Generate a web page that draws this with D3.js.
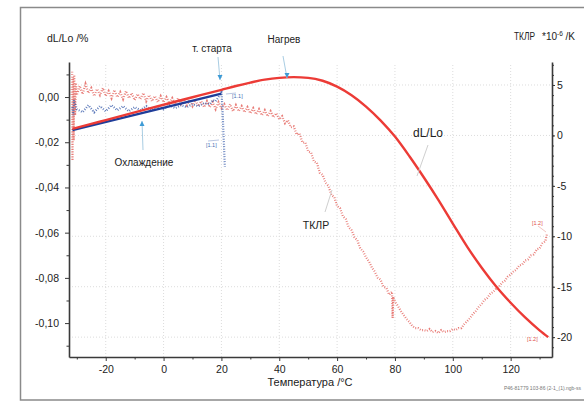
<!DOCTYPE html>
<html>
<head>
<meta charset="utf-8">
<script src="https://cdn.jsdelivr.net/npm/d3@7"></script>
<style>
  body { margin: 0; background: #fff; }
  svg text { font-family: "Liberation Sans", Arial, sans-serif; fill: #222; }
</style>
</head>
<body>
<svg id="chart" width="584" height="402"></svg>
<script>
// tick labels
var xTicks = [-20, 0, 20, 40, 60, 80, 100, 120];
var xMinor = [-30, -10, 10, 30, 50, 70, 90, 110, 130];
var leftTicks = [0, -0.02, -0.04, -0.06, -0.08, -0.10];
var leftMinor = [0.01, -0.01, -0.03, -0.05, -0.07, -0.09, -0.11];
var rightTicks = [5, 0, -5, -10, -15, -20];

// dL/Lo, heating (red solid), % vs temperature
var heatT  = [-31.5, -25, -20, -10, 0, 10, 20, 25, 30, 35, 40, 45, 50, 55, 60, 65, 70, 75, 80, 85, 90, 95, 100, 105, 110, 115, 120, 125, 130, 133];
var heatDL = [-0.0141, -0.0119, -0.0102, -0.0068, -0.0034, -0.0001, 0.0032, 0.0049, 0.0064, 0.0077, 0.0085, 0.0088, 0.0085, 0.0072, 0.0046, 0.0008, -0.0042, -0.0103, -0.0175, -0.0262, -0.0356, -0.0455, -0.0560, -0.0663, -0.0755, -0.0838, -0.0910, -0.0975, -0.1032, -0.1062];

// dL/Lo, cooling (blue solid)
var coolT  = [-31.5, 20];
var coolDL = [-0.0146, 0.0015];

// TKLP heating (red dots), 1e-6/K
var tkHeatT = [-31.8, -31.6, -31.5, -31.3, -31.1, -30.9, -30.6, -30.3, -30, -29, -28, -27, -26, -25, -24, -23, -22, -21, -20, -19, -18, -17, -16, -15, -14, -13, -12, -11, -10, -9, -8, -7, -6, -5, -4, -3, -2, -1, 0, 1, 2, 3, 4, 5, 6, 7, 8, 9, 10, 11, 12, 13, 14, 15, 16, 17, 18, 19, 20, 21, 22, 23, 24, 25, 26, 27, 28, 29, 30, 31, 32, 33, 34, 35, 36, 37, 38, 39, 40, 41, 42, 43, 44, 45, 46, 47, 48, 49, 50, 51, 52, 53, 54, 55, 56, 57, 58, 59, 60, 61, 62, 63, 64, 65, 66, 67, 68, 69, 70, 71, 72, 73, 74, 75, 76, 77, 78, 79, 79.2, 79.4, 80, 81, 82, 83, 84, 85, 86, 87, 88, 89, 90, 91, 92, 93, 94, 95, 96, 97, 98, 99, 100, 101, 102, 103, 104, 105, 106, 107, 108, 109, 110, 111, 112, 113, 114, 115, 116, 117, 118, 119, 120, 121, 122, 123, 124, 125, 126, 127, 128, 129, 130, 131, 132, 132.6];
var tkHeatV = [4.0, 6.4, -2.5, 5.8, -0.5, 6.0, 2.0, 5.2, 4.0, 4.9, 4.1, 5.1, 4.2, 4.7, 3.9, 4.6, 4.0, 4.7, 3.9, 4.4, 3.7, 4.5, 3.8, 4.3, 3.6, 4.4, 3.7, 4.2, 3.5, 4.1, 3.6, 4.2, 3.4, 4.0, 3.4, 3.9, 3.3, 3.9, 3.3, 3.8, 3.2, 3.7, 3.1, 3.7, 3.1, 3.6, 3.0, 3.5, 2.9, 3.5, 2.9, 3.4, 2.8, 3.4, 2.8, 3.3, 2.6, 3.3, 2.7, 3.1, 2.5, 3.1, 2.4, 3.0, 2.4, 2.9, 2.3, 2.8, 2.2, 2.7, 2.1, 2.6, 2.0, 2.5, 1.9, 2.4, 1.8, 2.2, 1.6, 1.9, 1.2, 1.5, 0.8, 0.9, 0.1, 0.2, -0.7, -0.7, -1.6, -1.7, -2.6, -2.7, -3.7, -3.9, -4.7, -5.0, -5.9, -6.1, -7.0, -7.2, -8.0, -8.3, -9.1, -9.4, -10.1, -10.4, -11.2, -11.5, -12.1, -12.5, -13.1, -13.5, -14.1, -14.3, -15.0, -15.1, -15.8, -15.5, -18.1, -16.0, -16.5, -16.9, -17.4, -17.8, -18.2, -18.5, -18.9, -19.1, -19.1, -19.3, -19.3, -19.4, -19.2, -19.5, -19.4, -19.6, -19.3, -19.5, -19.4, -19.4, -19.2, -19.3, -19.1, -19.1, -18.7, -18.4, -18.1, -17.7, -17.4, -17.0, -16.7, -16.3, -16.1, -15.7, -15.5, -15.2, -15.0, -14.6, -14.4, -14.0, -13.8, -13.5, -13.3, -12.9, -12.8, -12.4, -12.3, -11.9, -11.8, -11.3, -11.2, -10.7, -10.5, -9.7];

// TKLP cooling (blue dots)
var tkCoolT = [-31.5, -31.2, -31.0, -30, -28, -26, -24, -22, -20, -18, -16, -14, -12, -10, -8, -6, -4, -2, 0, 2, 4, 6, 8, 10, 12, 14, 16, 17, 18, 19, 20, 20.3, 20.6, 20.9, 21.2];
var tkCoolV = [2.8, 2.0, 3.5, 2.6, 2.3, 3.0, 2.3, 2.9, 2.4, 3.0, 2.5, 2.9, 2.4, 2.8, 2.5, 2.9, 2.5, 2.9, 2.6, 3.0, 2.7, 3.0, 2.8, 3.1, 2.9, 3.2, 3.1, 3.5, 3.4, 3.8, 4.3, 3.0, 1.0, -1.0, -3.1];

var svg = d3.select("#chart");
var plotL = 69, plotR = 552, plotT = 62, plotB = 357;

var x = d3.scaleLinear().domain([-32.7, 134.3]).range([plotL, plotR]);
var yL = d3.scaleLinear().domain([-0.115, 0.0155]).range([plotB, plotT]);
var yR = d3.scaleLinear().domain([-21.97, 7.28]).range([plotB, plotT]);

// outer frame
svg.append("rect")
  .attr("x", 20.5).attr("y", 7.5)
  .attr("width", 600).attr("height", 392.5)
  .attr("fill", "#fff").attr("stroke", "#8a8a8a").attr("stroke-width", 1.5);

// grid
var grid = svg.append("g").attr("stroke", "#dcdcdc").attr("stroke-width", 1).attr("stroke-dasharray", "1,2");
grid.selectAll("line.v").data(xTicks).join("line").attr("class", "v")
  .attr("x1", function (d) { return x(d); }).attr("x2", function (d) { return x(d); })
  .attr("y1", plotT + 3).attr("y2", plotB);
grid.selectAll("line.h").data(rightTicks).join("line").attr("class", "h")
  .attr("x1", plotL).attr("x2", plotR)
  .attr("y1", function (d) { return yR(d); }).attr("y2", function (d) { return yR(d); });

// TKLP dotted series
function pts(tArr, vArr) { return tArr.map(function (t, i) { return [t, vArr[i]]; }); }
var dotLine = d3.line().x(function (d) { return x(d[0]); }).y(function (d) { return yR(d[1]); });

svg.append("path")
  .attr("d", dotLine(pts(tkHeatT, tkHeatV)))
  .attr("fill", "none").attr("stroke", "#e0504a").attr("stroke-width", 2.2)
  .attr("stroke-dasharray", "0.9,1.6").attr("opacity", 0.75);

svg.append("path")
  .attr("d", dotLine(pts(tkCoolT, tkCoolV)))
  .attr("fill", "none").attr("stroke", "#2f55a8").attr("stroke-width", 2.2)
  .attr("stroke-dasharray", "0.9,1.6").attr("opacity", 0.8);

// dL/Lo solid lines
var dlLine = d3.line().x(function (d) { return x(d[0]); }).y(function (d) { return yL(d[1]); });
svg.append("path")
  .attr("d", dlLine(pts(coolT, coolDL)))
  .attr("fill", "none").attr("stroke", "#1f3d99").attr("stroke-width", 2.4);
svg.append("path")
  .attr("d", dlLine.curve(d3.curveMonotoneX)(pts(heatT, heatDL)))
  .attr("fill", "none").attr("stroke", "#ec3b36").attr("stroke-width", 2.4);

// axes
function fmtL(d) { return d.toFixed(2).replace(".", ","); }
svg.append("g").attr("transform", "translate(0," + plotB + ")")
  .call(d3.axisBottom(x).tickValues(xTicks).tickSize(4).tickSizeOuter(0).tickPadding(4.5).tickFormat(function (d) { return String(d); }));
svg.append("g").attr("transform", "translate(0," + plotB + ")")
  .call(d3.axisBottom(x).tickValues(xMinor).tickSize(2.5).tickFormat(""))
  .select(".domain").remove();

svg.append("g").attr("transform", "translate(" + plotL + ",0)")
  .call(d3.axisLeft(yL).tickValues(leftTicks).tickSize(4).tickSizeOuter(0).tickPadding(6).tickFormat(fmtL));
svg.append("g").attr("transform", "translate(" + plotL + ",0)")
  .call(d3.axisLeft(yL).tickValues(leftMinor).tickSize(2.5).tickFormat(""))
  .select(".domain").remove();

svg.append("g").attr("transform", "translate(" + plotR + ",0)")
  .call(d3.axisRight(yR).tickValues(rightTicks).tickSize(3).tickSizeOuter(0).tickPadding(2).tickFormat(function (d) { return String(d); }));
svg.append("g").attr("transform", "translate(" + plotR + ",0)")
  .call(d3.axisRight(yR).ticks(30).tickSize(2).tickFormat(""))
  .select(".domain").remove();

svg.selectAll(".domain").attr("stroke", "#3a3a3a").attr("stroke-width", 1.6);
svg.selectAll(".tick line").attr("stroke", "#3a3a3a");
svg.selectAll(".tick text").attr("font-size", 10.5).attr("fill", "#222")
  .attr("font-family", "\"Liberation Sans\", Arial, sans-serif");

// titles
function label(txt, px, py, size, anchor, color) {
  return svg.append("text").attr("x", px).attr("y", py)
    .attr("font-size", size).attr("text-anchor", anchor || "start")
    .style("fill", color || "#222").text(txt);
}
label("dL/Lo /%", 47, 42, 10.5);
label("Температура /°C", 310, 386, 11, "middle");
label("ТКЛР", 514, 40, 10).attr("textLength", 21).attr("lengthAdjust", "spacingAndGlyphs");
var rt = label("*10", 542, 40, 10);
rt.append("tspan").attr("font-size", 6.5).attr("dy", -4).text("-6");
rt.append("tspan").attr("dy", 4).text(" /K");

// annotations
label("т. старта", 212, 52, 10, "middle");
label("Нагрев", 284, 43, 10, "middle");
label("Охлаждение", 144, 166, 10, "middle");
label("dL/Lo", 428, 137, 12, "middle");
label("ТКЛР", 316, 229, 10.5, "middle");

var arrows = [
  { x1: 218, y1: 57, x2: 220, y2: 80, dir: "down" },
  { x1: 283, y1: 56, x2: 287, y2: 78, dir: "down" },
  { x1: 143, y1: 150, x2: 142, y2: 121, dir: "up" }
];
arrows.forEach(function (a) {
  svg.append("line").attr("x1", a.x1).attr("y1", a.y1).attr("x2", a.x2).attr("y2", a.y2)
    .attr("stroke", "#a9cde3").attr("stroke-width", 1);
  var s = a.dir === "down" ? -1 : 1;
  svg.append("path")
    .attr("d", "M" + a.x2 + "," + a.y2 + "L" + (a.x2 - 2.5) + "," + (a.y2 + s * 5) + "L" + (a.x2 + 2.5) + "," + (a.y2 + s * 5) + "Z")
    .attr("fill", "#3d9bd6");
});

// pointer lines for curve labels
svg.append("line").attr("x1", 428).attr("y1", 145).attr("x2", 417).attr("y2", 176)
  .attr("stroke", "#cfcfcf").attr("stroke-width", 1);
svg.append("line").attr("x1", 325).attr("y1", 212).attr("x2", 332).attr("y2", 190)
  .attr("stroke", "#cfcfcf").attr("stroke-width", 1);

// segment end markers
label("[1.1]", 232, 98, 5.5, "start", "#4a6fb5");
label("[1.1]", 206, 147, 5.5, "start", "#4a6fb5");
label("[1.2]", 527, 341, 5.5, "start", "#e0504a");
label("[1.2]", 532, 225, 5.5, "start", "#e0504a");
svg.append("line").attr("x1", 226).attr("y1", 94).attr("x2", 236).attr("y2", 93).attr("stroke", "#8aa0cc").attr("stroke-width", 0.6);
svg.append("line").attr("x1", 208).attr("y1", 141).attr("x2", 219).attr("y2", 140).attr("stroke", "#8aa0cc").attr("stroke-width", 0.6);
svg.append("line").attr("x1", 538).attr("y1", 226).attr("x2", 546).attr("y2", 232).attr("stroke", "#e89a96").attr("stroke-width", 0.6);

// footer
label("P46-81779 103-86 (2-1_(1).ngb-ss", 504, 390, 5, "start", "#777");
</script>
</body>
</html>
